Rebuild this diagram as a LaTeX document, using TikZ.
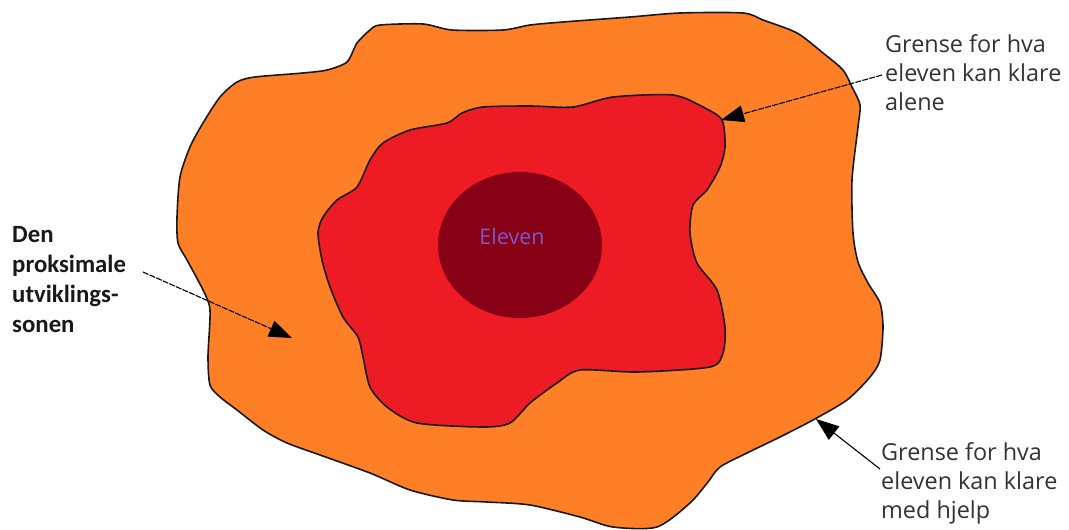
\documentclass[tikz,border=0pt]{standalone}
\usepackage{fontspec}
\setmainfont{Open Sans}
\newfontfamily\calib{Carlito}
\usetikzlibrary{arrows.meta}
\definecolor{zoneorange}{HTML}{FF7F27}
\definecolor{zonered}{HTML}{ED1C24}
\definecolor{zonedark}{HTML}{880015}
\definecolor{elevtext}{HTML}{7B58CC}
\definecolor{lbltext}{HTML}{333333}
\tikzset{
  zone/.style={draw=black!90, line width=1.6pt, line join=round},
  lblright/.style={inner sep=0pt, anchor=north west, align=left, text=lbltext,
    font=\fontsize{23.4}{29}\selectfont},
  lblleft/.style={inner sep=0pt, anchor=north west, align=left, text=black!90,
    font=\calib\bfseries\fontsize{24.8}{30}\selectfont},
  pointer/.style={line width=1.1pt, -{Triangle[length=23pt,width=17pt]}},
  dpointer/.style={pointer, dash pattern=on 6pt off 1.2pt},
}
\begin{document}
\begin{tikzpicture}[x=1pt,y=-1pt]
\useasboundingbox[fill=white] (0,0) rectangle (1069,530);
% outer zone
\draw[zone, fill=zoneorange] plot[smooth cycle, tension=0.45] coordinates {
 (380,25) (423,24) (452,30) (503,30) (530,25) (563,22) (630,17) (680,13)
 (743,13) (763,20) (797,33) (823,53) (843,70) (852,87) (860,105) (858,127)
 (852,180) (853,233) (858,262) (868,283) (880,303) (883,327) (880,360)
 (870,377) (847,400) (813,420) (780,437) (747,453) (720,467) (708,482)
 (690,503) (657,527) (613,527) (580,517) (530,505) (487,502) (453,500)
 (410,490) (370,473) (320,455) (287,443) (263,430) (237,410) (220,397)
 (210,385) (208,357) (210,310) (203,290) (187,260) (178,243) (177,217)
 (180,177) (190,147) (203,123) (220,97) (237,82) (255,77) (303,73)
 (327,70) (347,62) (357,43) (370,30)};
% inner zone
\draw[zone, fill=zonered] plot[smooth cycle, tension=0.45] coordinates {
 (483,107) (530,106) (573,107) (613,97) (673,95) (703,107) (722,120)
 (725,147) (720,167) (707,190) (693,205) (690,233) (697,263) (717,290)
 (725,327) (723,353) (710,367) (637,372) (580,370) (557,383) (530,403)
 (510,423) (483,427) (417,423) (387,407) (370,387) (363,357) (358,337)
 (343,317) (330,287) (322,260) (318,233) (323,217) (337,200) (357,187)
 (370,160) (383,143) (410,130) (447,123) (462,113)};
% core
\fill[zonedark] (520,245) ellipse [x radius=82, y radius=73];
\node[text=elevtext, font=\fontsize{21.5}{25}\selectfont, inner sep=0pt] (eleven) at (512,236) {Eleven};
% labels
\node[lblleft] (lblL) at (12,226) {Den\\proksimale\\utviklings-\\sonen};
\node[lblright] (lblTL) at (885,34) {Grense for hva\\eleven kan klare\\alene};
\node[lblright] (lblBR) at (881,442) {Grense for hva\\eleven kan klare\\med hjelp};
% arrow ends
\coordinate (sL) at (143,272);
\coordinate (tL) at (292,338);
\coordinate (sTL) at (882,75);
\coordinate (tTL) at (721,120);
\coordinate (sBR) at (880,469);
\coordinate (tBR) at (816,419);
\draw[dpointer] (sL) -- (tL);
\draw[dpointer] (sTL) -- (tTL);
\draw[pointer] (sBR) -- (tBR);
\end{tikzpicture}
\end{document}
